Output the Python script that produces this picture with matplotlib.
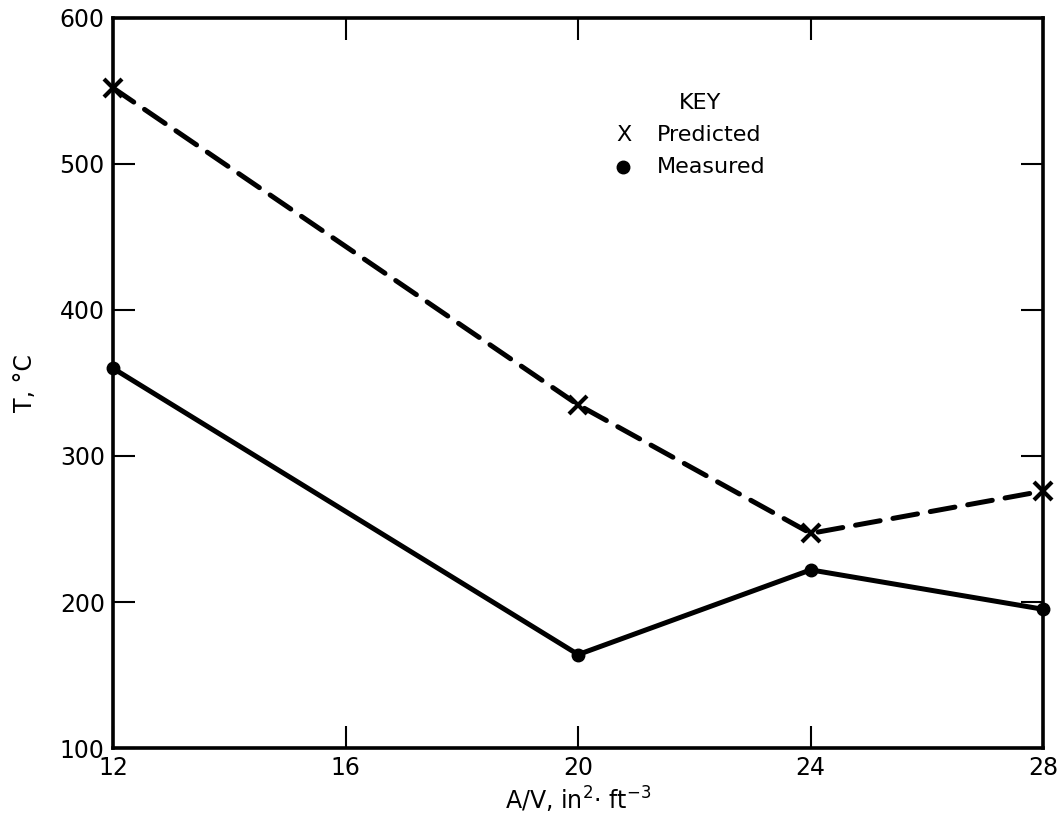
import matplotlib
matplotlib.use("Agg")
import matplotlib.pyplot as plt

x_values = [12, 20, 24, 28]
predicted = [552, 335, 247, 276]
measured = [360, 164, 222, 195]
x_ticks = [12, 16, 20, 24, 28]
y_ticks = [100, 200, 300, 400, 500, 600]

plt.rcParams['font.family'] = ['DejaVu Sans']
fig = plt.figure(figsize=(10.57, 8.25), dpi=100)
ax = fig.add_axes([0.107, 0.0933, 0.880, 0.885])

ax.plot(x_values, predicted, color='black', lw=3.6, ls=(0, (5, 2.6)),
        dash_capstyle='round', marker='x', markersize=13, mew=3, clip_on=False)
ax.plot(x_values, measured, color='black', lw=3.6, marker='o', markersize=9,
        clip_on=False)

ax.set_xlim(12, 28)
ax.set_ylim(100, 600)
ax.set_xticks(x_ticks)
ax.set_yticks(y_ticks)
ax.tick_params(direction='in', length=16, width=1.5, top=True, right=True,
               labelsize=17, pad=6)
for s in ax.spines.values():
    s.set_linewidth(2.6)

ax.set_xlabel(r'A/V, in$^2$$\cdot$ ft$^{-3}$', fontsize=17, labelpad=3)
ax.set_ylabel('T, °C', fontsize=17, labelpad=16)

# Key
ax.text(0.662, 0.875, 'KEY', transform=fig.transFigure, fontsize=16, ha='center', va='center')
ax.text(0.583, 0.836, 'X', transform=fig.transFigure, fontsize=16, ha='left', va='center')
ax.text(0.621, 0.836, 'Predicted', transform=fig.transFigure, fontsize=16, ha='left', va='center')
ax.plot([0.589], [0.797], marker='o', color='black', markersize=9, transform=fig.transFigure, clip_on=False)
ax.text(0.621, 0.797, 'Measured', transform=fig.transFigure, fontsize=16, ha='left', va='center')

fig.savefig('out.png', dpi=100)
